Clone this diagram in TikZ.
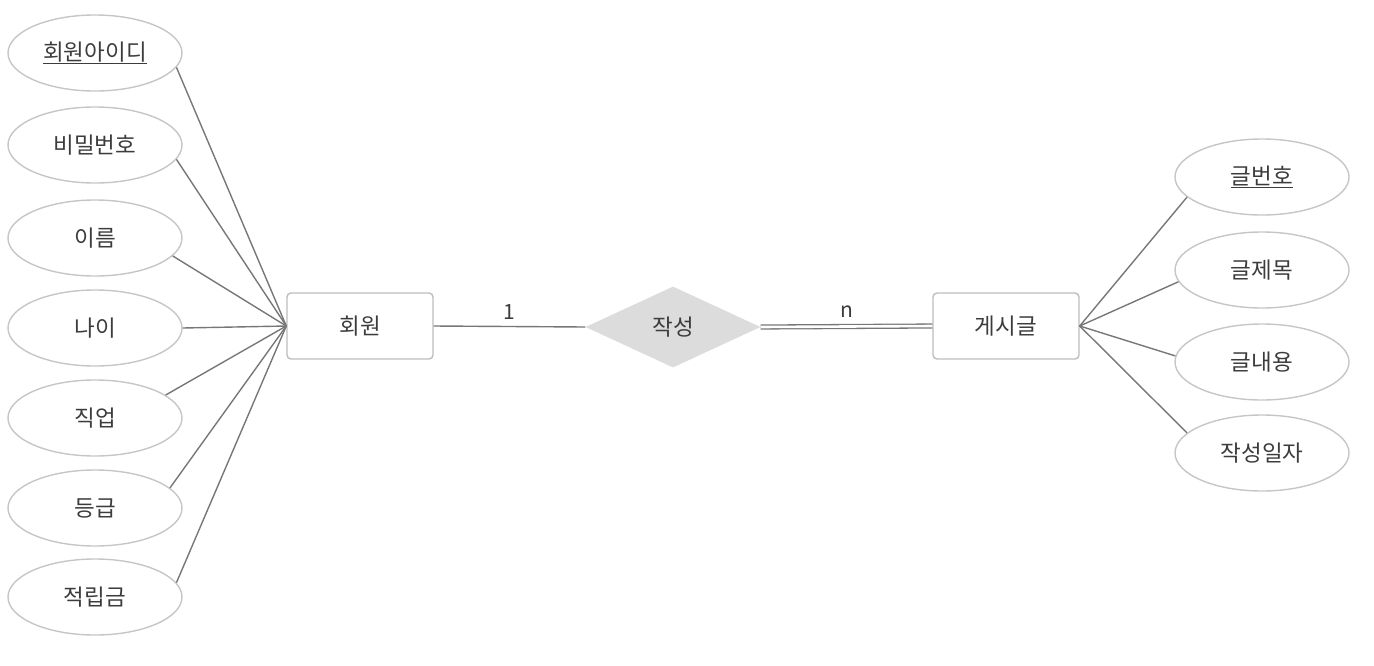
\documentclass[tikz,border=0pt]{standalone}
\usepackage{fontspec}
\setmainfont{Noto Sans CJK KR}
\usetikzlibrary{shapes.geometric}
\definecolor{txt}{HTML}{3C3C3C}
\definecolor{ln}{HTML}{777777}
\definecolor{eb}{HTML}{C6C6C6}
\definecolor{rb}{HTML}{BDBDBD}
\definecolor{df}{HTML}{DCDCDC}
\begin{document}
\begin{tikzpicture}[x=1pt,y=-1pt,
  every node/.style={text=txt,font=\fontsize{22.5}{26}\selectfont},
  attr/.style={ellipse,draw=eb,line width=1.4pt,minimum width=174pt,minimum height=76pt,inner sep=0pt},
  ent/.style={rectangle,rounded corners=4pt,draw=rb,line width=1.4pt,minimum width=146pt,minimum height=66pt,inner sep=0pt},
  rel/.style={diamond,fill=df,minimum width=175pt,minimum height=81pt,inner sep=0pt,aspect=2.16},
  conn/.style={draw=ln,line width=1.4pt},
  card/.style={font=\fontsize{21}{24}\selectfont}]
\useasboundingbox (0,0) rectangle (1374,665);
\node[ent] (m) at (360,326) {회원};
\node[ent] (p) at (1006,326) {게시글};
\node[rel] (r) at (673,327) {작성};
\node[attr] (a1) at (95,53) {\underline{회원아이디}};
\node[attr] (a2) at (95,145) {비밀번호};
\node[attr] (a3) at (95,238) {이름};
\node[attr] (a4) at (95,328) {나이};
\node[attr] (a5) at (95,418) {직업};
\node[attr] (a6) at (95,508) {등급};
\node[attr] (a7) at (95,597) {적립금};
\node[attr] (b1) at (1262,177) {\underline{글번호}};
\node[attr] (b2) at (1262,270) {글제목};
\node[attr] (b3) at (1262,362) {글내용};
\node[attr] (b4) at (1262,453) {작성일자};
\draw[conn] (a1.-10) -- (m.west);
\draw[conn] (a2.-10) -- (m.west);
\draw[conn] (a3.-13) -- (m.west);
\draw[conn] (a4.0) -- (m.west);
\draw[conn] (a5.18) -- (m.west);
\draw[conn] (a6.15) -- (m.west);
\draw[conn] (a7.10) -- (m.west);
\draw[conn] (p.east) -- (b1.195);
\draw[conn] (p.east) -- (b2.188);
\draw[conn] (p.east) -- (b3.176);
\draw[conn] (p.east) -- (b4.165);
\draw[conn] (m.east) -- node[card,above=3pt]{1} (r.west);
\draw[ln,line width=1.3pt,double=white,double distance=2.6pt] (r.east) -- node[card,above=5pt]{n} (p.west);
\end{tikzpicture}
\end{document}
